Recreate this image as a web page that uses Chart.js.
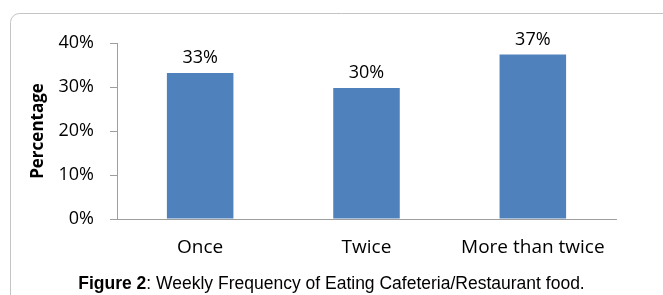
<!DOCTYPE html>
<html>
<head>
<meta charset="utf-8">
<script src="https://cdn.jsdelivr.net/npm/chart.js@4"></script>
<style>
  html, body { margin: 0; padding: 0; background: #fff; }
  #wrap { position: relative; width: 663px; height: 295px; }
  #caption {
    position: absolute; left: 0; width: 663px; top: 273px;
    text-align: center; font-family: "Liberation Sans", Arial, sans-serif;
    font-size: 17.5px; line-height: 20px; color: #000;
  }
</style>
</head>
<body>
<div id="wrap">
  <canvas id="freqChart" width="663" height="295"></canvas>
  <div id="caption"><b>Figure 2</b>: Weekly Frequency of Eating Cafeteria/Restaurant food.</div>
</div>
<script>
// values
const categories = ['Once', 'Twice', 'More than twice'];
const percentages = [33.2, 29.8, 37.4];
const valueLabels = ['33%', '30%', '37%'];

const labelFont = '"Open Sans", sans-serif';

// frame with rounded corner round the figure
const framePlugin = {
    id: 'frame',
    beforeDraw(chart) {
        const ctx = chart.ctx;
        ctx.save();
        ctx.strokeStyle = '#c4c4c4';
        ctx.lineWidth = 1;
        ctx.beginPath();
        ctx.roundRect(10.5, 13.5, 720, 320, 9);
        ctx.stroke();
        ctx.restore();
    }
};

// percentage text above each bar
const barLabels = {
    id: 'barLabels',
    afterDatasetsDraw(chart) {
        const ctx = chart.ctx;
        const meta = chart.getDatasetMeta(0);
        ctx.save();
        ctx.font = '18px ' + labelFont;
        ctx.fillStyle = '#000';
        ctx.textAlign = 'center';
        ctx.textBaseline = 'bottom';
        meta.data.forEach((bar, i) => {
            ctx.fillText(valueLabels[i], bar.x, bar.y - 6);
        });
        ctx.restore();
    }
};

const ctx = document.querySelector('#freqChart');

new Chart(ctx, {
    type: 'bar',
    data: {
        labels: categories,
        datasets: [{
            data: percentages,
            backgroundColor: '#4f81bd',
            borderWidth: 0,
            barPercentage: 0.4,
            categoryPercentage: 1.0
        }]
    },
    options: {
        responsive: false,
        animation: false,
        layout: { padding: { left: 28, right: 47, top: 43, bottom: 36 } },
        plugins: {
            legend: { display: false },
            tooltip: { enabled: false }
        },
        scales: {
            x: {
                grid: { display: false },
                border: { color: '#9e9e9e' },
                ticks: {
                    color: '#000',
                    padding: 9,
                    font: { family: labelFont, size: 19 }
                },
                afterFit(scale) { scale.height = 40; }
            },
            y: {
                min: 0,
                max: 40,
                ticks: {
                    stepSize: 10,
                    color: '#000',
                    padding: 16,
                    font: { family: labelFont, size: 18 },
                    callback: v => v + '%'
                },
                grid: {
                    drawOnChartArea: false,
                    tickLength: 7,
                    tickColor: '#9e9e9e'
                },
                border: { color: '#9e9e9e' },
                title: {
                    display: true,
                    text: 'Percentage',
                    color: '#000',
                    padding: 0,
                    font: { family: labelFont, size: 17, weight: 'bold' }
                },
                afterFit(scale) { scale.width = 89; }
            }
        }
    },
    plugins: [framePlugin, barLabels]
});
</script>
</body>
</html>
